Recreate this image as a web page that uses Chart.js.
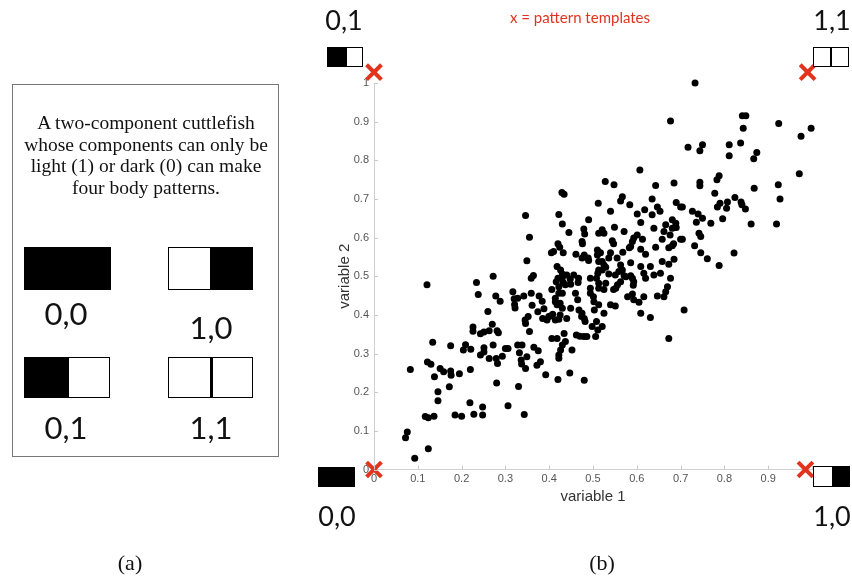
<!DOCTYPE html>
<html>
<head>
<meta charset="utf-8">
<script src="https://cdn.jsdelivr.net/npm/chart.js@4.4.0/dist/chart.umd.min.js"></script>
<style>
body{margin:0;width:852px;height:581px;position:relative;background:#fff;overflow:hidden}
#scatter{position:absolute;left:0;top:0}
.abs{position:absolute}
.box{left:12px;top:84px;width:265px;height:371px;border:1.5px solid #777}
.blurb{left:8px;top:112px;width:276px;text-align:center;font-family:"Liberation Serif",serif;font-size:19.5px;line-height:21.7px;color:#111;white-space:nowrap}
.pat{position:absolute;border:1.5px solid #000;box-sizing:border-box;background:#fff;overflow:hidden}
.pat .blk{position:absolute;top:0;bottom:0;background:#000}
.pat .div{position:absolute;top:0;bottom:0;width:2.5px;background:#000}
.lbl{position:absolute;font-family:Lato,"Open Sans",sans-serif;font-size:27px;color:#111;transform:translate(-50%,-50%);white-space:nowrap}
.big{font-size:31px}
.cap{position:absolute;font-family:"Liberation Serif",serif;font-size:22px;color:#111;transform:translate(-50%,-50%)}
.note{position:absolute;left:580px;top:17px;transform:translate(-50%,-50%);font-family:Lato,"Open Sans",sans-serif;font-size:15px;color:#e0341e;white-space:nowrap}
</style>
</head>
<body>
<canvas id="scatter" width="852" height="581"></canvas>

<!-- panel (a) -->
<div class="abs box"></div>
<div class="abs blurb">A two-component cuttlefish<br>whose components can only be<br>light (1) or dark (0) can make<br>four body patterns.</div>

<div class="pat" style="left:24px;top:247px;width:87px;height:43px;background:#000"></div>
<div class="pat" style="left:168px;top:247px;width:85px;height:43px"><div class="blk" style="left:41px;right:0"></div></div>
<div class="pat" style="left:24px;top:357px;width:86px;height:41px"><div class="blk" style="left:0;width:44px"></div></div>
<div class="pat" style="left:168px;top:357px;width:85px;height:41px"><div class="div" style="left:41px"></div></div>
<div class="lbl big" style="left:66px;top:313px">0,0</div>
<div class="lbl big" style="left:211px;top:327px">1,0</div>
<div class="lbl big" style="left:66px;top:427px">0,1</div>
<div class="lbl big" style="left:211px;top:427px">1,1</div>
<div class="cap" style="left:130px;top:563px">(a)</div>

<!-- panel (b) decorations -->
<div class="note">x = pattern templates</div>
<div class="lbl" style="left:344px;top:19px">0,1</div>
<div class="pat" style="left:327px;top:47px;width:36px;height:20px"><div class="blk" style="left:0;width:19px"></div></div>
<div class="lbl" style="left:832px;top:19px">1,1</div>
<div class="pat" style="left:813px;top:47px;width:36px;height:20px"><div class="div" style="left:16px;width:2px"></div></div>
<div class="pat" style="left:318px;top:467px;width:37px;height:20px;background:#000"></div>
<div class="lbl" style="left:337px;top:515px">0,0</div>
<div class="pat" style="left:813px;top:466px;width:37px;height:21px"><div class="blk" style="left:18px;right:0"></div></div>
<div class="lbl" style="left:832px;top:515px">1,0</div>
<div class="cap" style="left:602px;top:563px">(b)</div>

<script>
const var1 = [
 0.072,0.076,0.093,0.083,0.121,0.124,0.117,0.124,0.137,0.122,0.130,0.134,0.138,0.146,0.146,0.151,0.159,0.172,0.175,0.176,
 0.175,0.185,0.195,0.200,0.204,0.209,0.221,0.220,0.219,0.228,0.226,0.226,0.234,0.238,0.243,0.251,0.248,0.248,0.243,0.251,
 0.251,0.263,0.260,0.263,0.270,0.272,0.272,0.278,0.280,0.279,0.282,0.281,0.284,0.288,0.293,0.300,0.306,0.306,
 0.317,0.320,0.321,0.322,0.328,0.328,0.330,0.332,0.336,0.337,0.338,0.342,0.345,0.346,0.343,0.346,0.346,0.349,0.349,0.352,
 0.355,0.355,0.359,0.364,0.359,0.361,0.365,0.372,0.374,0.375,0.377,0.380,0.384,0.385,0.388,0.392,0.395,0.399,0.403,0.405,
 0.406,0.408,
 0.429,0.434,0.512,0.422,0.430,0.490,0.445,0.479,0.481,0.475,0.476,0.513,0.420,0.424,0.410,0.432,0.461,0.475,0.480,0.489,
 0.490,0.510,0.510,0.513,0.513,0.418,0.426,0.430,0.430,0.420,0.416,0.440,0.448,0.432,0.456,0.467,0.466,0.494,0.511,0.508,
 0.406,0.422,0.437,0.449,0.422,0.430,0.414,0.460,0.494,0.494,0.501,0.513,0.513,0.414,0.418,0.425,0.465,0.430,0.449,0.468,
 0.475,0.474,0.503,0.425,0.422,0.414,0.440,0.480,0.482,0.498,0.508,0.511,0.434,0.418,0.437,0.462,0.470,0.479,0.486,0.506,
 0.430,0.426,0.452,0.422,0.422,0.420,0.447,0.480,
 0.607,0.528,0.548,0.643,0.685,0.567,0.563,0.584,0.635,0.647,0.653,0.690,0.700,0.618,0.601,0.635,0.540,0.609,0.681,0.689,
 0.666,0.690,0.639,0.521,0.525,0.549,0.571,0.662,0.681,0.676,0.601,0.593,0.590,0.613,0.658,0.700,0.544,0.547,0.586,0.583,
 0.609,0.643,0.673,0.681,0.684,0.517,0.540,0.536,0.568,0.555,0.620,0.521,0.658,0.685,0.586,0.563,0.525,0.529,0.609,0.631,
 0.673,0.567,0.559,0.521,0.536,0.551,0.571,0.575,0.586,0.590,0.616,0.620,0.639,0.654,0.513,0.563,0.593,0.592,0.677,0.529,
 0.556,0.552,0.525,0.547,0.670,0.666,0.647,0.579,0.590,0.616,0.662,0.593,0.605,0.502,0.540,0.551,0.525,0.609,0.631,0.708,
 0.521,0.673,0.677,
 0.733,0.841,0.849,0.843,0.924,0.975,0.998,0.717,0.750,0.744,0.811,0.811,0.837,0.874,0.867,0.971,0.923,0.927,0.868,0.788,
 0.783,0.744,0.744,0.778,0.704,0.727,0.740,0.750,0.736,0.769,0.784,0.790,0.807,0.805,0.824,0.838,0.840,0.848,0.796,0.861,
 0.919,0.704,0.742,0.746,0.732,0.746,0.761,0.788,0.822
];
const var2 = [
 0.082,0.097,0.029,0.259,0.478,0.054,0.137,0.134,0.138,0.278,0.272,0.329,0.240,0.201,0.178,0.261,0.253,0.214,0.255,0.244,
 0.320,0.141,0.248,0.138,0.309,0.323,0.311,0.259,0.173,0.143,0.369,0.358,0.484,0.453,0.351,0.356,0.162,0.141,0.296,0.315,
 0.304,0.359,0.409,0.287,0.376,0.500,0.322,0.449,0.224,0.287,0.274,0.359,0.354,0.435,0.293,0.313,0.313,0.165,
 0.460,0.442,0.427,0.418,0.443,0.322,0.215,0.302,0.283,0.273,0.322,0.449,0.387,0.378,0.142,0.657,0.261,0.540,0.292,0.396,
 0.601,0.357,0.495,0.502,0.456,0.425,0.316,0.270,0.408,0.307,0.449,0.279,0.435,0.391,0.416,0.245,0.387,0.396,0.397,0.561,
 0.339,0.402,
 0.717,0.712,0.689,0.660,0.635,0.646,0.613,0.622,0.609,0.590,0.584,0.611,0.584,0.575,0.564,0.561,0.557,0.547,0.555,0.547,
 0.541,0.568,0.555,0.538,0.516,0.525,0.516,0.506,0.497,0.495,0.486,0.503,0.492,0.484,0.503,0.495,0.484,0.495,0.508,0.495,
 0.466,0.473,0.478,0.479,0.456,0.456,0.443,0.456,0.469,0.456,0.447,0.469,0.426,0.434,0.426,0.430,0.439,0.417,0.417,0.413,
 0.404,0.396,0.413,0.400,0.389,0.387,0.391,0.391,0.383,0.370,0.383,0.361,0.352,0.339,0.331,0.348,0.345,0.344,0.344,0.344,
 0.322,0.309,0.309,0.296,0.288,0.233,0.250,0.231,
 0.775,0.745,0.737,0.735,0.741,0.706,0.695,0.685,0.700,0.679,0.668,0.691,0.679,0.672,0.661,0.659,0.668,0.639,0.646,0.637,
 0.633,0.626,0.624,0.620,0.611,0.627,0.616,0.616,0.624,0.607,0.607,0.599,0.590,0.596,0.596,0.596,0.592,0.584,0.577,0.574,
 0.570,0.575,0.574,0.579,0.584,0.561,0.561,0.547,0.562,0.547,0.557,0.538,0.538,0.544,0.535,0.529,0.529,0.523,0.525,0.525,
 0.531,0.516,0.512,0.516,0.506,0.503,0.501,0.499,0.501,0.495,0.508,0.495,0.503,0.508,0.482,0.486,0.486,0.477,0.495,0.482,
 0.478,0.469,0.466,0.466,0.473,0.460,0.449,0.447,0.454,0.447,0.447,0.439,0.433,0.434,0.426,0.423,0.404,0.404,0.393,0.413,
 0.370,0.339,0.902,
 1.000,0.915,0.915,0.883,0.895,0.862,0.883,0.834,0.840,0.825,0.840,0.812,0.845,0.820,0.804,0.765,0.737,0.700,0.728,0.760,
 0.750,0.743,0.734,0.715,0.679,0.668,0.661,0.650,0.640,0.637,0.679,0.689,0.692,0.676,0.704,0.692,0.685,0.674,0.649,0.635,
 0.635,0.596,0.611,0.603,0.579,0.561,0.545,0.528,0.560
];
// the four pattern templates (0,0) (1,0) (0,1) (1,1) as drawn
const templateX = [0, 0.985, 0, 0.99];
const templateY = [0, 0, 1.028, 1.028];
const tickValues = [0,0.1,0.2,0.3,0.4,0.5,0.6,0.7,0.8,0.9,1];

const samples = var1.map((x,i) => ({x:x, y:var2[i]}));
const templates = templateX.map((x,i) => ({x:x, y:templateY[i]}));

function fmt(v){
    let r = Math.round(v*10)/10
    if(r==0) return '0'
    if(r==1) return '1'
    return r.toFixed(1)
}

// small inward tick marks like the original plot
const innerTicks = {
    id:'innerTicks',
    afterDraw(chart){
        const c = chart.ctx, a = chart.chartArea
        const xs = chart.scales.x, ys = chart.scales.y
        c.save()
        c.strokeStyle = '#c8c8c8'
        c.lineWidth = 1
        c.beginPath()
        tickValues.forEach(v => {
            let px = Math.round(xs.getPixelForValue(v))+0.5
            c.moveTo(px, a.bottom); c.lineTo(px, a.bottom-4)
            let py = Math.round(ys.getPixelForValue(v))+0.5
            c.moveTo(a.left, py); c.lineTo(a.left+4, py)
        })
        c.stroke()
        c.restore()
    }
}

const ctx = document.getElementById('scatter').getContext('2d');
const myChart = new Chart(ctx, {
    type: 'scatter',
    data: {
        datasets: [{
            label: 'pattern templates',
            data: templates,
            pointStyle: 'crossRot',
            pointRadius: 10.5,
            borderColor: '#e2341d',
            borderWidth: 4,
            clip: false
        },{
            label: 'variable 2',
            data: samples,
            pointRadius: 3.5,
            backgroundColor: '#000',
            borderWidth: 0,
            clip: false
        }]
    },
    options: {
        responsive: false,
        animation: false,
        layout: { padding: { left: 314, right: 40, top: 83, bottom: 71.5 } },
        plugins: { legend: { display: false }, tooltip: { enabled: false } },
        scales: {
            x: {
                type: 'linear', min: 0, max: 1,
                afterFit(s){ s.height = 40 },
                afterBuildTicks(s){ s.ticks = tickValues.map(v => ({value:v})) },
                grid: { display: false, drawTicks: false },
                border: { color: '#d0d0d0', width: 1 },
                ticks: { padding: 3, color: '#555', font: { family: 'Liberation Sans', size: 11 },
                    callback: v => (v >= 1 ? '' : fmt(v)) },
                title: { display: true, text: 'variable 1', color: '#333',
                    font: { family: 'Liberation Sans', size: 15 }, padding: { top: 0, bottom: 4 } }
            },
            y: {
                type: 'linear', min: 0, max: 1,
                afterFit(s){ s.width = 60 },
                afterBuildTicks(s){ s.ticks = tickValues.map(v => ({value:v})) },
                grid: { display: false, drawTicks: false },
                border: { color: '#d0d0d0', width: 1 },
                ticks: { padding: 5, color: '#555', font: { family: 'Liberation Sans', size: 11 },
                    callback: v => fmt(v) },
                title: { display: true, text: 'variable 2', color: '#333',
                    font: { family: 'Liberation Sans', size: 15 }, padding: { top: 22, bottom: 0 } }
            }
        }
    },
    plugins: [innerTicks]
});
</script>
</body>
</html>
